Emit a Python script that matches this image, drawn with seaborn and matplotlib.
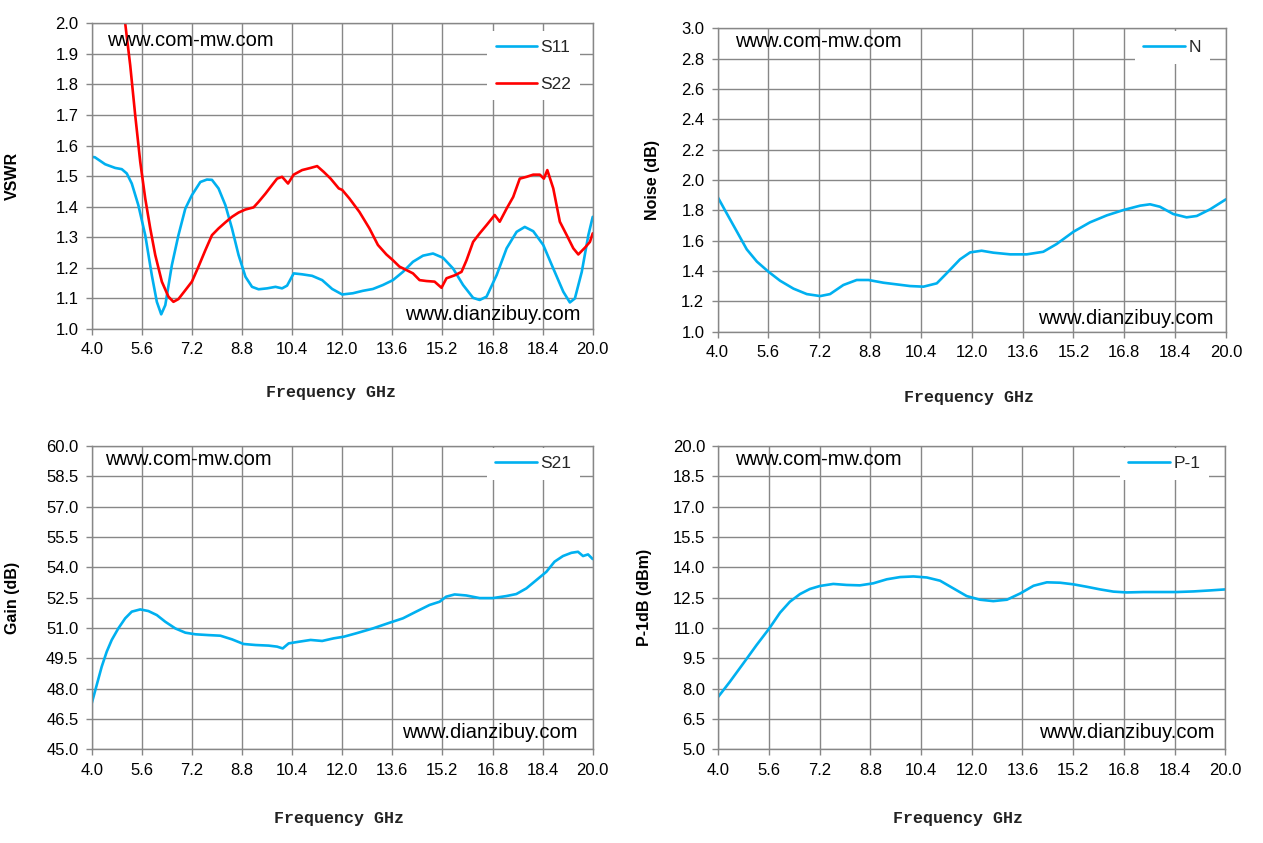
import numpy as np
import pandas as pd
import matplotlib
matplotlib.use("Agg")
import matplotlib.pyplot as plt
import seaborn as sns
from matplotlib.ticker import FormatStrFormatter, FixedLocator

# ---------------- data ----------------
s11_f = [4.0, 4.1, 4.43, 4.75, 4.96, 5.12, 5.28, 5.49, 5.71, 5.92, 6.08, 6.22, 6.35, 6.56, 6.77,
         6.99, 7.2, 7.47, 7.68, 7.84, 8.05, 8.27, 8.48, 8.69, 8.91, 9.12, 9.33, 9.6, 9.87, 10.08,
         10.24, 10.45, 10.72, 11.04, 11.36, 11.68, 12.0, 12.34, 12.66, 12.98, 13.3, 13.62, 13.94,
         14.26, 14.58, 14.9, 15.22, 15.54, 15.86, 16.18, 16.39, 16.61, 16.93, 17.25, 17.57, 17.83,
         18.1, 18.42, 18.74, 19.06, 19.27, 19.43, 19.65, 19.86, 20.0]
s11_v = [1.563, 1.562, 1.539, 1.527, 1.523, 1.509, 1.476, 1.405, 1.307, 1.176, 1.089, 1.048, 1.078,
         1.209, 1.307, 1.394, 1.438, 1.481, 1.489, 1.488, 1.46, 1.405, 1.329, 1.242, 1.171, 1.138,
         1.13, 1.133, 1.138, 1.133, 1.142, 1.182, 1.179, 1.174, 1.16, 1.131, 1.113, 1.117, 1.125,
         1.131, 1.144, 1.16, 1.187, 1.22, 1.24, 1.247, 1.233, 1.198, 1.144, 1.102, 1.095, 1.106,
         1.176, 1.264, 1.318, 1.334, 1.32, 1.275, 1.198, 1.122, 1.087, 1.1, 1.187, 1.307, 1.367]

s22_f = [4.9, 5.07, 5.23, 5.39, 5.55, 5.71, 5.87, 6.03, 6.24, 6.45, 6.61, 6.77, 6.99, 7.2, 7.41,
         7.63, 7.84, 8.05, 8.27, 8.48, 8.69, 8.91, 9.17, 9.33, 9.55, 9.76, 9.92, 10.08, 10.27, 10.45,
         10.72, 10.99, 11.2, 11.41, 11.63, 11.89, 12.0, 12.23, 12.55, 12.87, 13.14, 13.41, 13.62,
         13.83, 14.05, 14.26, 14.47, 14.69, 14.95, 15.17, 15.33, 15.6, 15.81, 15.97, 16.18, 16.39,
         16.61, 16.87, 17.03, 17.25, 17.46, 17.67, 17.89, 18.1, 18.31, 18.44, 18.55, 18.74, 18.95,
         19.17, 19.38, 19.54, 19.75, 19.91, 20.0]
s22_v = [2.15, 2.0, 1.863, 1.699, 1.547, 1.427, 1.329, 1.242, 1.155, 1.106, 1.089, 1.098, 1.127,
         1.155, 1.204, 1.258, 1.307, 1.329, 1.349, 1.367, 1.381, 1.391, 1.398, 1.416, 1.443, 1.471,
         1.492, 1.498, 1.476, 1.505, 1.52, 1.527, 1.533, 1.514, 1.492, 1.46, 1.455, 1.427, 1.383,
         1.329, 1.275, 1.244, 1.225, 1.204, 1.193, 1.182, 1.16, 1.157, 1.155, 1.135, 1.166, 1.176,
         1.187, 1.225, 1.285, 1.313, 1.34, 1.373, 1.351, 1.394, 1.432, 1.492, 1.498, 1.505, 1.505,
         1.492, 1.52, 1.46, 1.351, 1.307, 1.264, 1.244, 1.266, 1.285, 1.313]

noise_f = [4.0, 4.29, 4.61, 4.92, 5.24, 5.6, 5.97, 6.39, 6.81, 7.23, 7.54, 7.96, 8.38, 8.75, 9.22,
           9.64, 10.06, 10.48, 10.9, 11.21, 11.63, 11.95, 12.31, 12.68, 13.21, 13.73, 14.25, 14.67,
           15.2, 15.72, 16.25, 16.77, 17.3, 17.61, 17.92, 18.34, 18.76, 19.08, 19.5, 20.0]
noise_v = [1.89, 1.78, 1.66, 1.543, 1.462, 1.396, 1.336, 1.284, 1.248, 1.235, 1.248, 1.308, 1.341,
           1.341, 1.323, 1.312, 1.301, 1.297, 1.319, 1.385, 1.477, 1.523, 1.534, 1.521, 1.51, 1.51,
           1.527, 1.578, 1.659, 1.721, 1.767, 1.802, 1.831, 1.84, 1.824, 1.776, 1.754, 1.763, 1.807,
           1.873]

s21_f = [4.0, 4.16, 4.32, 4.48, 4.64, 4.85, 5.07, 5.28, 5.55, 5.81, 6.08, 6.35, 6.67, 6.99, 7.31,
         7.73, 8.11, 8.48, 8.85, 9.23, 9.65, 9.92, 10.1, 10.29, 10.61, 10.99, 11.36, 11.73, 12.05,
         12.45, 12.98, 13.51, 13.94, 14.36, 14.79, 15.11, 15.32, 15.59, 15.96, 16.39, 16.81, 17.24,
         17.56, 17.88, 18.2, 18.52, 18.78, 19.05, 19.32, 19.53, 19.69, 19.85, 20.0]
s21_v = [47.27, 48.18, 49.09, 49.83, 50.41, 50.98, 51.48, 51.81, 51.92, 51.84, 51.64, 51.31, 50.98,
         50.77, 50.69, 50.65, 50.62, 50.44, 50.21, 50.16, 50.13, 50.08, 49.99, 50.24, 50.32, 50.41,
         50.36, 50.49, 50.57, 50.74, 50.98, 51.26, 51.48, 51.81, 52.14, 52.3, 52.55, 52.66, 52.61,
         52.48, 52.48, 52.58, 52.68, 52.96, 53.37, 53.78, 54.28, 54.56, 54.72, 54.77, 54.56, 54.64,
         54.41]

p1_f = [4.0, 4.37, 4.79, 5.21, 5.61, 5.95, 6.26, 6.58, 6.89, 7.21, 7.63, 8.05, 8.47, 8.89, 9.32,
        9.74, 10.16, 10.58, 11.0, 11.42, 11.84, 12.26, 12.68, 13.11, 13.53, 13.95, 14.37, 14.79,
        15.21, 15.63, 16.05, 16.47, 16.89, 17.42, 17.95, 18.47, 19.0, 19.53, 20.0]
p1_v = [7.6, 8.35, 9.25, 10.16, 10.98, 11.76, 12.3, 12.68, 12.93, 13.08, 13.18, 13.13, 13.11, 13.21,
        13.41, 13.52, 13.55, 13.5, 13.34, 12.96, 12.58, 12.4, 12.33, 12.4, 12.71, 13.09, 13.26,
        13.24, 13.16, 13.04, 12.91, 12.8, 12.76, 12.78, 12.78, 12.78, 12.81, 12.86, 12.91]

x_ticks = [4.0, 5.6, 7.2, 8.8, 10.4, 12.0, 13.6, 15.2, 16.8, 18.4, 20.0]
vswr_ticks = [1.0, 1.1, 1.2, 1.3, 1.4, 1.5, 1.6, 1.7, 1.8, 1.9, 2.0]
noise_ticks = [1.0, 1.2, 1.4, 1.6, 1.8, 2.0, 2.2, 2.4, 2.6, 2.8, 3.0]
gain_ticks = [45.0, 46.5, 48.0, 49.5, 51.0, 52.5, 54.0, 55.5, 57.0, 58.5, 60.0]
p1_ticks = [5.0, 6.5, 8.0, 9.5, 11.0, 12.5, 14.0, 15.5, 17.0, 18.5, 20.0]

xlabel = "Frequency GHz"
wm_top = "www.com-mw.com"
wm_bot = "www.dianzibuy.com"

# ---------------- style ----------------
sns.set_theme(style="white")
plt.rcParams['font.family'] = ['Liberation Sans', 'DejaVu Sans']

BLUE = "#00B0F0"
RED = "#FF0000"
GRID = "#878787"

fig = plt.figure(figsize=(12.63, 8.43), dpi=100)
fig.patch.set_facecolor("white")

panels = [
    dict(rect=[0.0726, 0.6097, 0.3967, 0.3626], yt=vswr_ticks, ylabel="VSWR",
         series=[("S11", s11_f, s11_v, BLUE), ("S22", s22_f, s22_v, RED)],
         ylab_x=-0.143, xlab=(0.478, -0.183), wm1=(0.031, 0.945), wm2=(0.975, 0.049),
         leg=(0.975, 0.975), labsp=1.25),
    dict(rect=[0.5681, 0.6065, 0.4026, 0.3599], yt=noise_ticks, ylabel="Noise (dB)",
         series=[("N", noise_f, noise_v, BLUE)],
         ylab_x=-0.113, xlab=(0.495, -0.192), wm1=(0.034, 0.955), wm2=(0.976, 0.045),
         leg=(0.968, 0.99), labsp=1.0),
    dict(rect=[0.0726, 0.1111, 0.3967, 0.3598], yt=gain_ticks, ylabel="Gain (dB)",
         series=[("S21", s21_f, s21_v, BLUE)],
         ylab_x=-0.143, xlab=(0.494, -0.203), wm1=(0.027, 0.954), wm2=(0.970, 0.054),
         leg=(0.975, 0.995), labsp=1.0),
    dict(rect=[0.5687, 0.1111, 0.4014, 0.3598], yt=p1_ticks, ylabel="P-1dB (dBm)",
         series=[("P-1", p1_f, p1_v, BLUE)],
         ylab_x=-0.131, xlab=(0.473, -0.203), wm1=(0.033, 0.954), wm2=(0.978, 0.054),
         leg=(0.968, 0.995), labsp=1.0),
]

for p in panels:
    ax = fig.add_axes(p["rect"])
    ax.set_facecolor("white")
    for name, f, v, col in p["series"]:
        df = pd.DataFrame({"f": f, "v": v})
        sns.lineplot(data=df, x="f", y="v", ax=ax, color=col, linewidth=1.9,
                     label=name, estimator=None, sort=False)
    ax.set_xlim(x_ticks[0], x_ticks[-1])
    ax.set_ylim(p["yt"][0], p["yt"][-1])
    ax.xaxis.set_major_locator(FixedLocator(x_ticks))
    ax.yaxis.set_major_locator(FixedLocator(p["yt"]))
    ax.xaxis.set_major_formatter(FormatStrFormatter("%.1f"))
    ax.yaxis.set_major_formatter(FormatStrFormatter("%.1f"))
    ax.grid(True, color=GRID, linewidth=1.0)
    ax.set_axisbelow(True)
    for s in ax.spines.values():
        s.set_color(GRID)
        s.set_linewidth(1.0)
    ax.tick_params(axis="both", which="major", direction="out", length=4.5, width=1.0,
                   color=GRID, labelsize=12, labelcolor="black", pad=5,
                   bottom=True, left=True)
    ax.set_xlabel(xlabel, family=["Liberation Mono", "DejaVu Sans Mono"], fontweight="bold",
                  fontsize=12, color="#222222")
    ax.xaxis.set_label_coords(*p["xlab"])
    ax.set_ylabel(p["ylabel"], fontweight="bold", fontsize=11.5, color="black")
    ax.yaxis.set_label_coords(p["ylab_x"], 0.5)
    ax.text(p["wm1"][0], p["wm1"][1], wm_top, transform=ax.transAxes, ha="left", va="center",
            fontsize=14.5, color="black", zorder=5)
    ax.text(p["wm2"][0], p["wm2"][1], wm_bot, transform=ax.transAxes, ha="right", va="center",
            fontsize=14.5, color="black", zorder=5)
    leg = ax.legend(loc="upper right", bbox_to_anchor=p["leg"], frameon=True, fancybox=False,
                    framealpha=1.0, facecolor="white", edgecolor="none", fontsize=12.5,
                    handlelength=2.4, handletextpad=0.2, labelspacing=p["labsp"],
                    borderpad=0.5, borderaxespad=0.0)
    leg.set_zorder(6)

fig.savefig("out.png", dpi=100, facecolor="white")
